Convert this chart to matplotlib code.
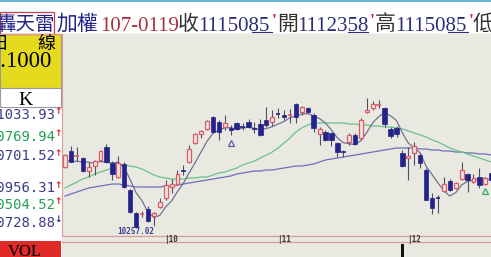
import matplotlib
matplotlib.use('Agg')
import matplotlib.pyplot as plt
from matplotlib.patches import Rectangle
from matplotlib import transforms

W, H = 491, 257

# daily candles, Sept 2017 .. end of Dec 2017 (index points)
opens = [10562, 10642, 10612, 10607, 10542, 10567, 10597, 10662, 10582, 10512,
         10577, 10447, 10332, 10322, 10352, 10317, 10362, 10407, 10462, 10477,
         10547, 10587, 10682, 10727, 10752, 10812, 10787, 10762, 10757, 10782,
         10767, 10787, 10757, 10777, 10797, 10787, 10832, 10822, 10817, 10877,
         10837, 10857, 10822, 10727, 10737, 10732, 10682, 10642, 10687, 10722,
         10707, 10837, 10857, 10867, 10857, 10752, 10757, 10632, 10607, 10632,
         10622, 10547, 10407, 10412, 10442, 10492, 10457, 10502, 10527, 10487,
         10512, 10477, 10532]
highs = [10627, 10667, 10662, 10612, 10587, 10597, 10647, 10677, 10592, 10617,
         10587, 10452, 10337, 10342, 10367, 10337, 10407, 10497, 10502, 10547,
         10572, 10672, 10732, 10747, 10797, 10817, 10797, 10822, 10772, 10787,
         10782, 10802, 10787, 10802, 10862, 10847, 10857, 10847, 10852, 10882,
         10867, 10862, 10832, 10762, 10747, 10737, 10687, 10647, 10732, 10732,
         10807, 10907, 10892, 10897, 10862, 10762, 10767, 10647, 10662, 10687,
         10632, 10557, 10432, 10422, 10512, 10502, 10487, 10587, 10532, 10527,
         10557, 10512, 10537]
lows = [10557, 10587, 10592, 10537, 10512, 10522, 10587, 10582, 10497, 10507,
        10457, 10332, 10257.02, 10312, 10287, 10267, 10357, 10397, 10432, 10472,
        10522, 10582, 10677, 10707, 10747, 10732, 10697, 10747, 10722, 10747,
        10747, 10757, 10732, 10717, 10762, 10767, 10807, 10797, 10782, 10782,
        10822, 10832, 10737, 10672, 10692, 10667, 10612, 10612, 10672, 10672,
        10697, 10832, 10847, 10857, 10762, 10707, 10712, 10562, 10497, 10572,
        10557, 10397, 10327, 10332, 10437, 10442, 10452, 10497, 10437, 10482,
        10457, 10472, 10487]
closes = [10622, 10587, 10617, 10542, 10562, 10592, 10642, 10587, 10527, 10582,
          10462, 10337, 10262, 10327, 10292, 10332, 10387, 10472, 10477, 10527,
          10542, 10652, 10727, 10742, 10792, 10737, 10737, 10782, 10747, 10752,
          10762, 10762, 10752, 10722, 10772, 10812, 10827, 10812, 10822, 10812,
          10862, 10837, 10757, 10752, 10697, 10697, 10637, 10637, 10722, 10677,
          10797, 10847, 10877, 10872, 10777, 10717, 10727, 10567, 10617, 10667,
          10582, 10397, 10357, 10407, 10477, 10447, 10482, 10547, 10497, 10507,
          10472, 10507, 10497]

ma5 = [10595, 10592, 10590, 10588, 10586, 10580, 10591, 10585, 10582, 10586,
       10560, 10499, 10434, 10394, 10336, 10310, 10320, 10362, 10392, 10439,
       10481, 10534, 10585, 10638, 10691, 10730, 10747, 10758, 10759, 10751,
       10756, 10761, 10755, 10750, 10754, 10764, 10777, 10789, 10809, 10817,
       10827, 10829, 10818, 10804, 10781, 10748, 10708, 10684, 10678, 10674,
       10694, 10736, 10784, 10814, 10834, 10818, 10794, 10732, 10681, 10659,
       10632, 10566, 10524, 10482, 10444, 10417, 10434, 10472, 10490, 10496,
       10501, 10506, 10496]
ma20 = [10457, 10472, 10487, 10502, 10512, 10527, 10537, 10547, 10557, 10562,
        10572, 10567, 10562, 10552, 10537, 10522, 10512, 10507, 10502, 10502,
        10502, 10507, 10507, 10512, 10512, 10522, 10532, 10537, 10547, 10557,
        10572, 10582, 10592, 10607, 10622, 10637, 10657, 10682, 10707, 10737,
        10757, 10772, 10782, 10782, 10782, 10782, 10782, 10782, 10777, 10777,
        10772, 10772, 10767, 10767, 10762, 10762, 10757, 10752, 10742, 10732,
        10722, 10712, 10697, 10687, 10672, 10657, 10647, 10637, 10627, 10617,
        10607, 10597, 10587]
ma60 = [10417, 10427, 10437, 10447, 10457, 10462, 10467, 10472, 10477, 10477,
        10472, 10467, 10462, 10462, 10462, 10462, 10462, 10467, 10467, 10472,
        10477, 10482, 10487, 10492, 10497, 10502, 10507, 10512, 10517, 10527,
        10532, 10537, 10542, 10542, 10547, 10547, 10552, 10557, 10562, 10567,
        10567, 10572, 10577, 10587, 10597, 10602, 10607, 10612, 10617, 10622,
        10627, 10632, 10637, 10642, 10647, 10652, 10657, 10657, 10657, 10657,
        10652, 10652, 10647, 10647, 10642, 10642, 10637, 10637, 10632, 10632,
        10627, 10627, 10622]

month_idx = [17, 36, 58]
month_lbl = ['10', '11', '12']
signal_idx = [28, 71]
signal_val = [10682, 10442]
vol_idx = [57]
vol_val = [1300]

k_vals = ['11033.93', '10769.94', '10701.52', '10956.31', '10504.52', '10728.88']
k_cols = ['#3c3c88', '#22a050', '#3c3c88', '#3c3c88', '#22a050', '#3c3c88']
k_arrows = ['↑', '↑', '↑', '↑', '↑', '↓']

RED = '#e05a6a'
NAVY = '#23238a'
BG = '#e9e9e1'
PINK = '#d89a9a'
SERIF = ['Liberation Serif', 'Noto Sans CJK TC']
CJK = ['Noto Sans CJK TC', 'DejaVu Sans']

fig = plt.figure(figsize=(W / 100, H / 100), dpi=100)
fig.patch.set_facecolor('white')

# pixel canvas for panels and header
bg = fig.add_axes([0, 0, 1, 1])
bg.set_xlim(0, W)
bg.set_ylim(H, 0)
bg.axis('off')


def px_axes(x0, y0, x1, y1):
    return fig.add_axes([x0 / W, 1 - y1 / H, (x1 - x0) / W, (y1 - y0) / H])


bg.add_patch(Rectangle((62, 34), W - 62, H - 34, fc=BG, ec='none'))
bg.add_patch(Rectangle((0, 34), 61, 54, fc='#e6da1e', ec='#999999', lw=0.8))
bg.add_patch(Rectangle((0, 88), 61, 19, fc='white', ec='#999999', lw=0.8))
bg.add_patch(Rectangle((0, 240.5), 61, 17, fc='#e02a28', ec='none'))
bg.plot([0, W], [0.7, 0.7], color='#5aaad2', lw=1.3)
bg.plot([0, W], [33.5, 33.5], color=PINK, lw=0.9)
bg.plot([62, W], [236, 236], color=PINK, lw=0.9)
bg.plot([62, W], [242, 242], color=PINK, lw=0.9)
bg.add_patch(Rectangle((0, 12), 54, 22, fc='none', ec='#c04050', lw=0.9))

# header line
bg.text(-4, 30, '轟天雷', family=CJK, fontsize=14, color=NAVY)
bg.text(56, 30, '加權', family=CJK, fontsize=15, color=NAVY)
bg.text(100, 31, '107-0119', family=SERIF, fontsize=15, color='#a8303e')
bg.text(178, 30, '收', family=CJK, fontsize=15, color='#333333')
bg.text(198, 31, '1115085', family=SERIF, fontsize=15, color='#2c2c78')
bg.text(272, 27, "'", family=SERIF, fontsize=13, color='#d02030', weight='bold')
bg.text(277, 30, '開', family=CJK, fontsize=15, color='#333333')
bg.text(297, 31, '1112358', family=SERIF, fontsize=15, color='#2c2c78')
bg.text(370, 27, "'", family=SERIF, fontsize=13, color='#d02030', weight='bold')
bg.text(375, 30, '高', family=CJK, fontsize=15, color='#333333')
bg.text(395, 31, '1115085', family=SERIF, fontsize=15, color='#2c2c78')
bg.text(469, 27, "'", family=SERIF, fontsize=13, color='#d02030', weight='bold')
bg.text(473, 30, '低', family=CJK, fontsize=15, color='#333333')
for a, b in [(252, 272), (348, 368), (448, 468)]:
    bg.plot([a, b], [32.3, 32.3], color='#2c2c78', lw=0.8)

# left panel
bg.text(-9, 49, '日', family=CJK, fontsize=13, color='black')
bg.text(37, 49, '線', family=CJK, fontsize=13, color='black')
bg.text(51, 67, '1.1000', family=SERIF, fontsize=16.5, color='black', ha='right')
bg.text(25, 105, 'K', family=SERIF, fontsize=14, color='black', ha='center')
bg.text(25, 256, 'VOL', family=SERIF, fontsize=12, color='black', ha='center')
for k, (txt, col, arr) in enumerate(zip(k_vals, k_cols, k_arrows)):
    yy = [115, 137, 156, 188, 205, 223][k]
    bg.text(55, yy, txt, family='DejaVu Sans Mono', fontsize=10, color=col,
            ha='right', va='center')
    bg.text(58.5, yy - 3, arr, family='DejaVu Sans', fontsize=6.5,
            color='#e02020' if arr == '↑' else NAVY, ha='center', va='center',
            weight='bold')

# price chart
ax = px_axes(62, 34, W, 235)
ax.set_facecolor(BG)
ax.set_xlim(-0.507, 71.96)
ax.set_ylim(10222, 11227)
for s in ['top', 'right', 'bottom']:
    ax.spines[s].set_visible(False)
ax.spines['left'].set_color(PINK)
ax.set_xticks([])
ax.set_yticks([])

idx = list(range(len(closes)))
ax.plot(idx, ma60, color='#6e6eba', lw=0.9, zorder=2)
ax.plot(idx, ma20, color='#66c48a', lw=0.9, zorder=2)
ax.plot(idx, ma5, color='#727292', lw=0.9, zorder=2)

for i in idx:
    o, h, l, c = opens[i], highs[i], lows[i], closes[i]
    up = c >= o
    col = RED if up else NAVY
    ax.vlines(i, l, h, color='#505062', lw=0.8, zorder=3)
    if abs(c - o) <= 5:
        ax.hlines(c, i - 0.4, i + 0.4, color=col, lw=1.2, zorder=4)
    elif up:
        ax.bar(i, c - o, bottom=o, width=0.66, fc=BG, ec=RED, lw=0.9, zorder=4)
    else:
        ax.bar(i, o - c, bottom=c, width=0.74, fc=NAVY, ec=NAVY, lw=0.5, zorder=4)

ax.plot(signal_idx[0], signal_val[0], marker='^', ms=5, mfc='none',
        mec='#5a5aa8', mew=0.9, zorder=5)
ax.plot(signal_idx[1], signal_val[1], marker='^', ms=5, mfc='none',
        mec='#30b060', mew=0.9, zorder=5)

lo = lows.index(min(lows))
ax.text(lo, min(lows) - 16, f'{min(lows):.2f}', family='DejaVu Sans Mono',
        fontsize=5.5, color='#3c3c90', weight='bold', ha='center', va='center')

# month strip
tr = transforms.blended_transform_factory(ax.transData, bg.transData)
for i, m in zip(month_idx, month_lbl):
    bg.text(i - 0.2, 239.3, '|' + m, transform=tr, family='DejaVu Sans Mono',
            fontsize=5.5, weight='bold', color='#333333', va='center')

# volume strip (top of panel only)
vax = px_axes(62, 242.5, W, H)
vax.set_facecolor(BG)
vax.set_xlim(-0.507, 71.96)
vax.set_ylim(0, 1500)
vax.axis('off')
vax.bar(vol_idx, vol_val, width=0.6, color='#111111')

fig.savefig('out.png', dpi=100)
